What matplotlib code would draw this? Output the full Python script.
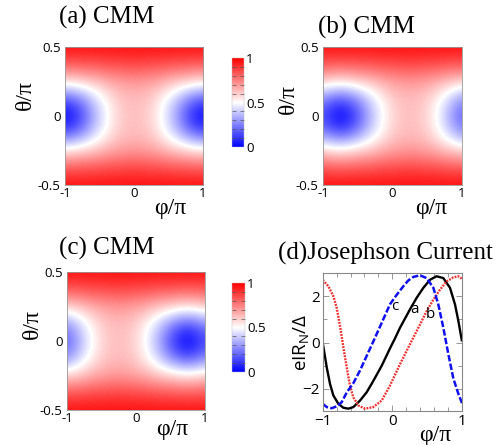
import numpy as np
import matplotlib
matplotlib.use("Agg")
import matplotlib.pyplot as plt
from matplotlib.ticker import MultipleLocator

plt.rcParams['font.family'] = ['Open Sans', 'DejaVu Sans']
plt.rcParams['mathtext.default'] = 'regular'

# ---------------- data ----------------
phi_grid = [-1.0, -0.875, -0.75, -0.625, -0.5, -0.375, -0.25, -0.125, 0.0,
            0.125, 0.25, 0.375, 0.5, 0.625, 0.75, 0.875, 1.0]
theta_grid = [-0.5, -0.375, -0.25, -0.125, 0.0, 0.125, 0.25, 0.375, 0.5]

cmm_a = [
    [0.97]*17,
    [0.82, 0.82, 0.83, 0.83, 0.84, 0.85, 0.85, 0.86, 0.86, 0.86, 0.85, 0.85, 0.84, 0.83, 0.83, 0.82, 0.82],
    [0.56, 0.57, 0.59, 0.61, 0.63, 0.66, 0.68, 0.69, 0.70, 0.69, 0.68, 0.66, 0.63, 0.61, 0.59, 0.57, 0.56],
    [0.18, 0.21, 0.28, 0.37, 0.46, 0.53, 0.59, 0.62, 0.63, 0.62, 0.59, 0.53, 0.46, 0.37, 0.28, 0.21, 0.18],
    [0.00, 0.05, 0.15, 0.28, 0.40, 0.50, 0.57, 0.61, 0.62, 0.61, 0.57, 0.50, 0.40, 0.28, 0.15, 0.05, 0.00],
    [0.18, 0.21, 0.28, 0.37, 0.46, 0.53, 0.59, 0.62, 0.63, 0.62, 0.59, 0.53, 0.46, 0.37, 0.28, 0.21, 0.18],
    [0.56, 0.57, 0.59, 0.61, 0.63, 0.66, 0.68, 0.69, 0.70, 0.69, 0.68, 0.66, 0.63, 0.61, 0.59, 0.57, 0.56],
    [0.82, 0.82, 0.83, 0.83, 0.84, 0.85, 0.85, 0.86, 0.86, 0.86, 0.85, 0.85, 0.84, 0.83, 0.83, 0.82, 0.82],
    [0.97]*17,
]
cmm_b = [
    [0.97]*17,
    [0.83, 0.82, 0.82, 0.82, 0.83, 0.83, 0.84, 0.85, 0.85, 0.86, 0.86, 0.86, 0.85, 0.85, 0.84, 0.83, 0.83],
    [0.59, 0.57, 0.56, 0.57, 0.59, 0.61, 0.63, 0.66, 0.68, 0.69, 0.70, 0.69, 0.68, 0.66, 0.63, 0.61, 0.59],
    [0.26, 0.21, 0.18, 0.21, 0.28, 0.37, 0.46, 0.53, 0.59, 0.62, 0.63, 0.62, 0.59, 0.53, 0.46, 0.37, 0.30],
    [0.12, 0.05, 0.00, 0.05, 0.15, 0.28, 0.40, 0.50, 0.57, 0.61, 0.62, 0.61, 0.57, 0.50, 0.40, 0.28, 0.20],
    [0.26, 0.21, 0.18, 0.21, 0.28, 0.37, 0.46, 0.53, 0.59, 0.62, 0.63, 0.62, 0.59, 0.53, 0.46, 0.37, 0.30],
    [0.59, 0.57, 0.56, 0.57, 0.59, 0.61, 0.63, 0.66, 0.68, 0.69, 0.70, 0.69, 0.68, 0.66, 0.63, 0.61, 0.59],
    [0.83, 0.82, 0.82, 0.82, 0.83, 0.83, 0.84, 0.85, 0.85, 0.86, 0.86, 0.86, 0.85, 0.85, 0.84, 0.83, 0.83],
    [0.97]*17,
]
cmm_c = [
    [0.97]*17,
    [0.83, 0.83, 0.84, 0.85, 0.85, 0.86, 0.86, 0.86, 0.85, 0.85, 0.84, 0.83, 0.83, 0.82, 0.82, 0.82, 0.83],
    [0.59, 0.61, 0.63, 0.66, 0.68, 0.69, 0.70, 0.69, 0.68, 0.66, 0.63, 0.61, 0.59, 0.57, 0.56, 0.57, 0.59],
    [0.30, 0.37, 0.46, 0.53, 0.59, 0.62, 0.63, 0.62, 0.59, 0.53, 0.46, 0.37, 0.28, 0.21, 0.18, 0.21, 0.26],
    [0.20, 0.28, 0.40, 0.50, 0.57, 0.61, 0.62, 0.61, 0.57, 0.50, 0.40, 0.28, 0.15, 0.05, 0.00, 0.05, 0.12],
    [0.30, 0.37, 0.46, 0.53, 0.59, 0.62, 0.63, 0.62, 0.59, 0.53, 0.46, 0.37, 0.28, 0.21, 0.18, 0.21, 0.26],
    [0.59, 0.61, 0.63, 0.66, 0.68, 0.69, 0.70, 0.69, 0.68, 0.66, 0.63, 0.61, 0.59, 0.57, 0.56, 0.57, 0.59],
    [0.83, 0.83, 0.84, 0.85, 0.85, 0.86, 0.86, 0.86, 0.85, 0.85, 0.84, 0.83, 0.83, 0.82, 0.82, 0.82, 0.83],
    [0.97]*17,
]

# Josephson current curves
phi_a = [-1.0, -0.942, -0.895, -0.847, -0.775, -0.703, -0.632, -0.56, -0.464, -0.368, -0.273,
         -0.153, -0.034, 0.038, 0.11, 0.253, 0.349, 0.445, 0.541, 0.636, 0.732, 0.828, 0.9, 0.948, 1.0]
cur_a = [0.0, -1.07, -1.78, -2.28, -2.64, -2.81, -2.85, -2.78, -2.5, -2.14, -1.65,
         -1.0, -0.25, 0.18, 0.64, 1.43, 1.93, 2.36, 2.71, 2.86, 2.78, 2.36, 1.64, 0.93, 0.05]

phi_b = [-1.0, -0.919, -0.847, -0.799, -0.751, -0.703, -0.655, -0.608, -0.56, -0.488, -0.393,
         -0.273, -0.153, -0.034, 0.11, 0.253, 0.397, 0.493, 0.589, 0.684, 0.78, 0.876, 0.948, 1.0]
cur_b = [2.7, 2.43, 2.0, 1.5, 0.71, -0.21, -1.07, -1.86, -2.36, -2.71, -2.85,
         -2.78, -2.5, -1.85, -0.93, -0.07, 0.78, 1.36, 1.85, 2.28, 2.64, 2.81, 2.86, 2.75]

phi_c = [-1.0, -0.942, -0.871, -0.8, -0.727, -0.655, -0.56, -0.464, -0.368, -0.273, -0.153,
         -0.034, 0.06, 0.158, 0.23, 0.301, 0.397, 0.493, 0.589, 0.66, 0.732, 0.804, 0.876, 0.948, 1.0]
cur_c = [-2.64, -2.78, -2.83, -2.75, -2.57, -2.15, -1.75, -1.2, -0.57, 0.05, 0.85,
         1.65, 2.05, 2.43, 2.68, 2.83, 2.9, 2.78, 2.36, 1.64, 0.64, -0.5, -1.55, -2.21, -2.61]

heat_titles = ['(a) CMM', '(b) CMM', '(c) CMM']
curve_tags = ['a', 'b', 'c']
xtick_vals = [-1, 0, 1]
xtick_labels = ['-1', '0', '1']
ytick_vals = [-0.5, 0, 0.5]
ytick_labels = ['-0.5', '0', '0.5']

# ---------------- figure ----------------
W, H = 503, 445
fig = plt.figure(figsize=(W/100, H/100), dpi=100)

def fr(x0, y0, x1, y1):
    return [x0/W, 1 - y1/H, (x1-x0)/W, (y1-y0)/H]

serif = 'Liberation Serif'

def heat(rect, Z, xl_pos, yl_pos):
    ax = fig.add_axes(rect)
    dx, dy = 0.125, 0.125
    im = ax.imshow(np.array(Z), origin='lower', cmap='bwr', vmin=0, vmax=1,
                   extent=[phi_grid[0]-dx/2, phi_grid[-1]+dx/2,
                           theta_grid[0]-dy/2, theta_grid[-1]+dy/2],
                   interpolation='bicubic', aspect='auto')
    ax.set_xlim(-1, 1)
    ax.set_ylim(-0.5, 0.5)
    ax.set_xticks(xtick_vals)
    ax.set_xticklabels(xtick_labels)
    ax.set_yticks(ytick_vals)
    ax.set_yticklabels(ytick_labels)
    ax.tick_params(length=0, labelsize=9.5, pad=1.5)
    ax.tick_params(axis='y', pad=3)
    for s in ax.spines.values():
        s.set_color('#999999')
        s.set_linewidth(0.6)
    ax.text(xl_pos[0], xl_pos[1], 'φ/π', transform=ax.transAxes, ha='center', va='center',
            family=serif, fontsize=17)
    ax.text(yl_pos[0], yl_pos[1], 'θ/π', transform=ax.transAxes, ha='center', va='center',
            family=serif, fontsize=17, rotation=90)
    return ax, im

axa, ima = heat(fr(65, 47, 203, 185), cmm_a, (0.76, -0.167), (-0.29, 0.65))
axb, imb = heat(fr(323, 47, 462, 185), cmm_b, (0.78, -0.167), (-0.25, 0.62))
axc, imc = heat(fr(67, 272, 205, 410), cmm_c, (0.76, -0.14), (-0.254, 0.62))

def cbar(rect, im):
    cax = fig.add_axes(rect)
    cb = fig.colorbar(im, cax=cax, ticks=[0, 0.5, 1])
    cb.ax.set_yticklabels(['0', '0.5', '1'])
    cb.outline.set_linewidth(0.3)
    cb.outline.set_edgecolor('#bbbbbb')
    cb.ax.yaxis.set_minor_locator(MultipleLocator(0.1))
    cb.ax.tick_params(which='major', length=0, labelsize=9.5, pad=2)
    cb.ax.tick_params(which='minor', direction='in', length=3, width=0.5,
                      color='#555555', left=True, right=True)
    return cb

cbar(fr(232, 58, 243.5, 147), ima)
cbar(fr(232, 283, 244.5, 372), imc)

fig.text(107/W, 1 - 17/H, heat_titles[0], ha='center', va='center', family=serif, fontsize=18)
fig.text(366.7/W, 1 - 27/H, heat_titles[1], ha='center', va='center', family=serif, fontsize=18)
fig.text(106.7/W, 1 - 248.3/H, heat_titles[2], ha='center', va='center', family=serif, fontsize=18)
fig.text(385/W, 1 - 253.3/H, '(d)Josephson Current', ha='center', va='center', family=serif, fontsize=18)

# panel d
axd = fig.add_axes(fr(322.7, 273, 462, 411))
axd.plot(phi_a, cur_a, color='black', lw=1.7, solid_capstyle='butt')
axd.plot(phi_b, cur_b, color='#f03030', lw=1.7, linestyle=(0, (0.8, 0.5)))
axd.plot(phi_c, cur_c, color='#1010ee', lw=1.8, linestyle=(0, (2.6, 0.9)))
axd.set_xlim(-1, 1)
axd.set_ylim(-2.95, 3.0)
axd.set_xticks([-1, 0, 1])
axd.set_xticklabels(['−1', '0', '1'])
axd.set_yticks([-2, 0, 2])
axd.set_yticklabels(['−2', '0', '2'])
axd.xaxis.set_minor_locator(MultipleLocator(0.2))
axd.yaxis.set_minor_locator(MultipleLocator(1))
axd.tick_params(which='both', direction='in', top=True, right=True, color='#888888',
                width=0.6, labelsize=11, pad=2)
axd.tick_params(which='major', length=4)
axd.tick_params(which='minor', length=3)
for s in axd.spines.values():
    s.set_color('#888888')
    s.set_linewidth(0.8)
axd.text(0.03, 1.56, curve_tags[2], fontsize=11, ha='center', va='center')
axd.text(0.32, 1.42, curve_tags[0], fontsize=11, ha='center', va='center')
axd.text(0.55, 1.2, curve_tags[1], fontsize=11, ha='center', va='center')
axd.text(0.806, -0.174, 'φ/π', transform=axd.transAxes, ha='center', va='center',
         family=serif, fontsize=17)
axd.text(-0.158, 0.5, 'eIR$_\\mathregular{N}$/Δ', transform=axd.transAxes, ha='center',
         va='center', fontsize=13.5, rotation=90)

fig.savefig('out.png', dpi=100)
